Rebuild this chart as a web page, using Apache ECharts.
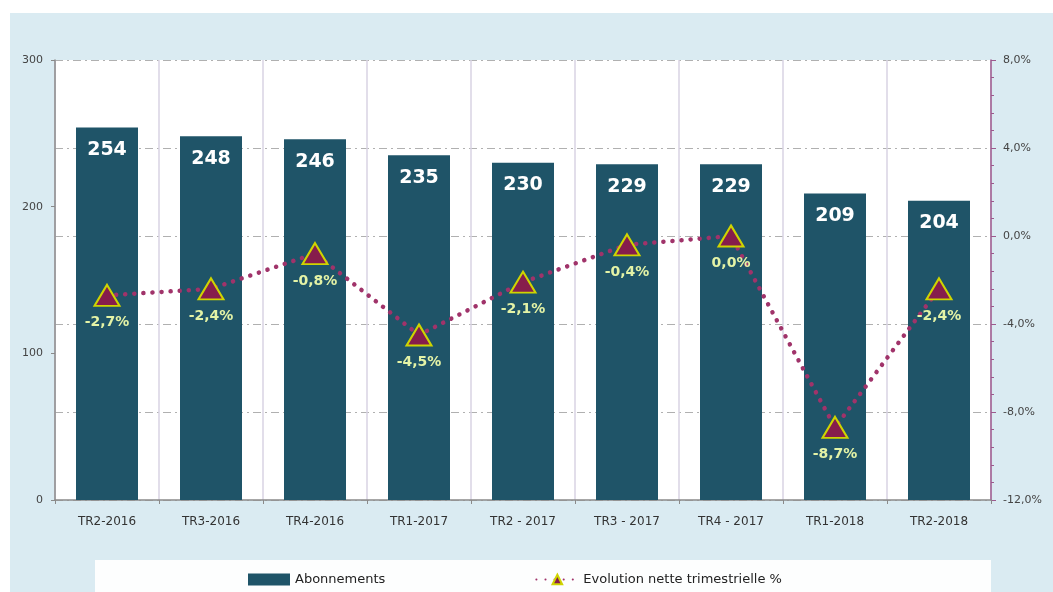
<!DOCTYPE html>
<html>
<head>
<meta charset="utf-8">
<script src="https://cdn.jsdelivr.net/npm/echarts@6/dist/echarts.min.js"></script>
<style>
  html, body { margin: 0; padding: 0; background: #fff; }
  #main { width: 1053px; height: 592px; }
</style>
</head>
<body>
<div id="main"></div>
<script>
// trimestres
var categories = ['TR2-2016', 'TR3-2016', 'TR4-2016', 'TR1-2017', 'TR2 - 2017',
                  'TR3 - 2017', 'TR4 - 2017', 'TR1-2018', 'TR2-2018'];
// abonnements (barres)
var abonnements = [254, 248, 246, 235, 230, 229, 229, 209, 204];
// evolution nette trimestrielle en % (courbe)
var evolution = [-2.7, -2.4, -0.8, -4.5, -2.1, -0.4, 0.0, -8.7, -2.4];

function pct(v) {
    return v.toFixed(1).replace('.', ',') + '%';
}

var myChart = echarts.init(document.getElementById('main'));

var options = {
    backgroundColor: '#fff',
    textStyle: { fontFamily: 'DejaVu Sans' },
    animation: false,
    graphic: [
        { type: 'rect', left: 10, top: 13, shape: { width: 1043, height: 579 },
          style: { fill: '#daebf2' }, z: -10 },
        { type: 'rect', left: 95, top: 560, shape: { width: 896, height: 32 },
          style: { fill: '#fdfefe' }, z: -5 }
    ],
    grid: {
        left: 55, right: 62, top: 60, bottom: 92,
        show: true, backgroundColor: '#fff', borderWidth: 0
    },
    legend: {
        left: 243, top: 568,
        itemGap: 150,
        itemWidth: 42, itemHeight: 12,
        textStyle: { fontSize: 13, color: '#222', fontFamily: 'DejaVu Sans' },
        data: [
            { name: 'Abonnements', icon: 'rect' },
            { name: 'Evolution nette trimestrielle %' }
        ]
    },
    xAxis: {
        type: 'category',
        data: categories,
        axisLine: { lineStyle: { color: '#8a8a8a', width: 1.5 } },
        axisTick: { show: true, length: 4, lineStyle: { color: '#8a8a8a' } },
        axisLabel: { margin: 16, fontSize: 12, color: '#333' },
        splitLine: { show: true, lineStyle: { color: '#d9d3e3', width: 1.5 } }
    },
    yAxis: [
        {   // axe gauche
            type: 'value', min: 0, max: 300, interval: 100,
            axisLine: { show: true, lineStyle: { color: '#8a8a8a', width: 1.5 } },
            axisTick: { show: true, length: 4, lineStyle: { color: '#8a8a8a' } },
            axisLabel: { fontSize: 11, color: '#444', margin: 12 },
            splitLine: { show: false }
        },
        {   // axe droit
            type: 'value', min: -12, max: 8, interval: 4,
            position: 'right',
            axisLine: { show: true, lineStyle: { color: '#9c5a8e', width: 1.5 } },
            axisTick: { show: true, length: 5, lineStyle: { color: '#9c5a8e' } },
            minorTick: { show: true, splitNumber: 5, length: 3, lineStyle: { color: '#9c5a8e' } },
            axisLabel: { fontSize: 11, color: '#444', margin: 12, formatter: pct },
            splitLine: { show: true, lineStyle: { color: '#b0b0b0', type: [8, 4, 2, 4], width: 1 } }
        }
    ],
    series: [
        {
            name: 'Abonnements',
            type: 'bar',
            data: abonnements,
            barWidth: 62,
            itemStyle: { color: '#1f5468' },
            label: {
                show: true, position: 'insideTop', distance: 13,
                color: '#fff', fontSize: 19, fontWeight: 'bold'
            },
            z: 2
        },
        {
            name: 'Evolution nette trimestrielle %',
            type: 'line',
            yAxisIndex: 1,
            data: evolution,
            symbol: 'triangle',
            symbolSize: [25, 21],
            lineStyle: { color: '#a0336a', width: 4.5, type: [0.1, 9], cap: 'round' },
            itemStyle: { color: '#861d4c', borderColor: '#cfd400', borderWidth: 2 },
            label: {
                show: true, position: 'bottom', distance: 9,
                color: '#e4f3a6', fontSize: 14, fontWeight: 'bold',
                formatter: function(p) { return pct(p.value); }
            },
            z: 5
        }
    ]
};

myChart.setOption(options);
</script>
</body>
</html>
